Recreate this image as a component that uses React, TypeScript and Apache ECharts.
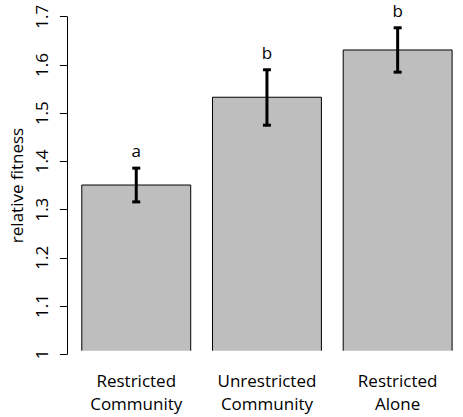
import React, { useEffect, useRef } from "react";
import * as echarts from "echarts";

const categories = ["Restricted\nCommunity", "Unrestricted\nCommunity", "Restricted\nAlone"];
const means = [1.351, 1.533, 1.631];
const errLow = [1.316, 1.475, 1.585];
const errHigh = [1.386, 1.59, 1.677];
const letters = ["a", "b", "b"];
const yTickLabels = ["1", "1.1", "1.2", "1.3", "1.4", "1.5", "1.6", "1.7"];
const BAR_BASE = 1.0075;

const FONT = "'Open Sans', 'DejaVu Sans', sans-serif";

export default function App() {
  const ref = useRef<HTMLDivElement>(null);
  useEffect(() => {
    if (!ref.current) return;
    const chart = echarts.init(ref.current, undefined, { renderer: "svg" });
    chart.setOption({
      animation: false,
      backgroundColor: "#ffffff",
      grid: { left: 66.75, right: -8.45, top: 16.7, bottom: 62.7, containLabel: false },
      xAxis: {
        type: "category",
        data: categories,
        axisLine: { show: false },
        axisTick: { show: false },
        axisLabel: {
          color: "#000",
          fontFamily: FONT,
          fontSize: 17,
          lineHeight: 23,
          margin: 15,
        },
      },
      yAxis: {
        type: "value",
        min: 1,
        max: 1.7,
        interval: 0.1,
        offset: 4,
        splitLine: { show: false },
        axisLine: { show: true, lineStyle: { color: "#000", width: 1 } },
        axisTick: { show: true, inside: false, length: 7, lineStyle: { color: "#000", width: 1 } },
        axisLabel: {
          rotate: 90,
          color: "#000",
          fontFamily: FONT,
          fontSize: 17,
          margin: 17,
          formatter: (v: number) => yTickLabels[Math.round((v - 1) * 10)] ?? "",
        },
        name: "relative fitness",
        nameLocation: "middle",
        nameGap: 39,
        nameRotate: 90,
        nameTextStyle: { color: "#000", fontFamily: FONT, fontSize: 17 },
      },
      series: [
        {
          type: "custom",
          clip: false,
          data: means.map((v, i) => [i, v]),
          renderItem: (params: any, api: any) => {
            const i = api.value(0);
            const top = api.coord([i, api.value(1)]);
            const base = api.coord([i, BAR_BASE]);
            const w = api.size([1, 0])[0] / 1.2;
            const l = top[0] - w / 2;
            const r = top[0] + w / 2;
            return {
              type: "group",
              children: [
                {
                  type: "rect",
                  shape: { x: l, y: top[1], width: w, height: base[1] - top[1] },
                  style: { fill: "#bebebe", stroke: null },
                },
                {
                  type: "polyline",
                  shape: { points: [[l, base[1]], [l, top[1]], [r, top[1]], [r, base[1]]] },
                  style: { stroke: "#000", fill: null, lineWidth: 1 },
                },
              ],
            };
          },
        },
        {
          type: "custom",
          clip: false,
          data: errLow.map((lo, i) => [i, lo, errHigh[i]]),
          renderItem: (params: any, api: any) => {
            const i = api.value(0);
            const lo = api.coord([i, api.value(1)]);
            const hi = api.coord([i, api.value(2)]);
            const cx = lo[0];
            const cap = 4;
            const st = { stroke: "#000", lineWidth: 3 };
            return {
              type: "group",
              children: [
                { type: "line", shape: { x1: cx, y1: lo[1], x2: cx, y2: hi[1] }, style: st },
                { type: "line", shape: { x1: cx - cap, y1: lo[1], x2: cx + cap, y2: lo[1] }, style: st },
                { type: "line", shape: { x1: cx - cap, y1: hi[1], x2: cx + cap, y2: hi[1] }, style: st },
                {
                  type: "text",
                  x: cx,
                  y: hi[1] - 17.5,
                  style: {
                    text: letters[params.dataIndex],
                    fill: "#000",
                    font: `17px ${FONT}`,
                    align: "center",
                    verticalAlign: "middle",
                  },
                },
              ],
            };
          },
        },
      ],
    });
    return () => chart.dispose();
  }, []);
  return (
    <div
      ref={ref}
      style={{ position: "fixed", left: 0, top: 0, width: 463, height: 417, background: "#fff" }}
    />
  );
}
